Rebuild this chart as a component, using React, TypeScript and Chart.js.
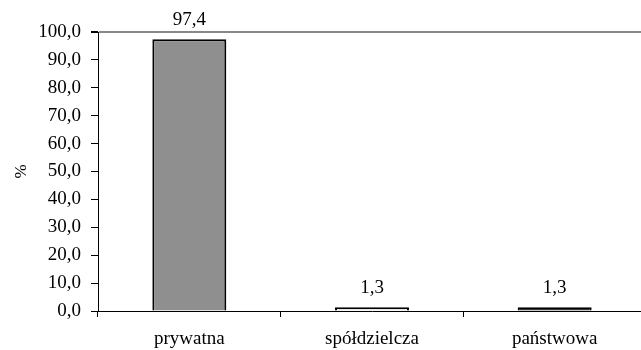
import React, { useEffect, useRef } from "react";
import { Chart, registerables } from "chart.js";

Chart.register(...registerables);

const categories = ["prywatna", "spółdzielcza", "państwowa"];
const values = [97.4, 1.3, 1.3];
const barColors = ["#8f8f8f", "#e6e6e6", "#333333"];
const yTicksMax = 100;
const yTicksStep = 10;
const yTitle = "%";

const fmt = (v: number) => v.toFixed(1).replace(".", ",");
const FONT = "'Liberation Serif', 'Times New Roman', serif";

const labelPlugin = {
  id: "barLabels",
  afterDatasetsDraw(chart: any) {
    const ctx = chart.ctx;
    const meta = chart.getDatasetMeta(0);
    ctx.save();
    ctx.font = `19px ${FONT}`;
    ctx.fillStyle = "#000";
    ctx.textAlign = "center";
    ctx.textBaseline = "alphabetic";
    meta.data.forEach((el: any, i: number) => {
      ctx.fillText(fmt(values[i]), el.x, el.y - 14);
    });
    ctx.restore();
  },
};

export default function App() {
  const ref = useRef<HTMLCanvasElement>(null);
  useEffect(() => {
    const chart = new Chart(ref.current!, {
      type: "bar",
      data: {
        labels: categories,
        datasets: [
          {
            data: values,
            backgroundColor: barColors,
            borderColor: "#000",
            borderWidth: 2,
            categoryPercentage: 1,
            barPercentage: 0.405,
          },
        ],
      },
      options: {
        animation: false,
        responsive: false,
        maintainAspectRatio: false,
        layout: { padding: { top: 32, right: 0, left: 0, bottom: 0 } },
        plugins: { legend: { display: false }, tooltip: { enabled: false } },
        scales: {
          x: {
            afterFit: (s: any) => {
              s.height = 39;
            },
            grid: {
              offset: true,
              drawOnChartArea: false,
              color: "#000",
              tickColor: "#000",
              tickLength: 6,
            },
            border: { color: "#000", width: 1 },
            ticks: {
              color: "#000",
              padding: 11,
              font: { family: FONT, size: 19 },
            },
          },
          y: {
            min: 0,
            max: yTicksMax,
            afterFit: (s: any) => {
              s.width = 98;
            },
            ticks: {
              stepSize: yTicksStep,
              color: "#000",
              padding: 10,
              font: { family: FONT, size: 19 },
              callback: (v: any) => fmt(Number(v)),
            },
            grid: {
              color: (c: any) => (c.tick && c.tick.value === 100 ? "#888" : "rgba(0,0,0,0)"),
              lineWidth: (c: any) => (c.tick && c.tick.value === 100 ? 2 : 1),
              tickColor: "#000",
              tickLength: 7,
            },
            border: { color: "#000", width: 1 },
            title: {
              display: true,
              text: yTitle,
              color: "#000",
              font: { family: FONT, size: 17 },
              padding: { top: 11, bottom: 0 },
            },
          },
        },
      },
      plugins: [labelPlugin],
    });
    return () => chart.destroy();
  }, []);
  return (
    <div
      style={{
        position: "fixed",
        left: 0,
        top: 0,
        width: 641,
        height: 350,
        overflow: "hidden",
        background: "#fff",
      }}
    >
      <canvas ref={ref} width={646} height={350} style={{ width: 646, height: 350, display: "block" }} />
    </div>
  );
}
